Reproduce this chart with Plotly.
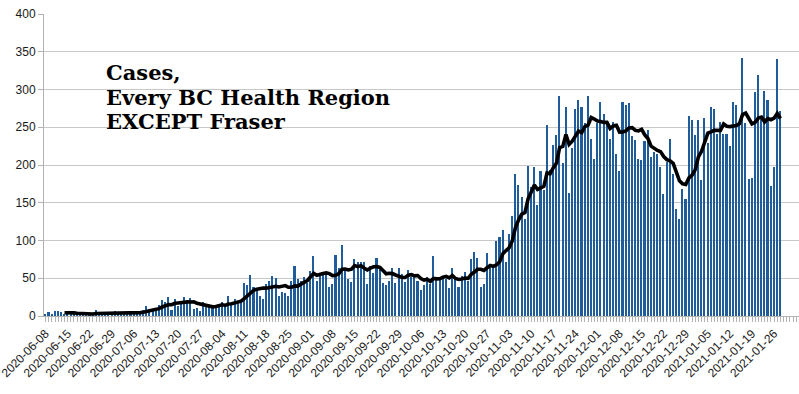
import pandas as pd
import plotly.graph_objects as go

cases = [
    # 2020-06-08 ...
    3, 5, 3, 6, 6, 5, 2,
    4, 3, 3, 2, 3, 2, 3,
    3, 2, 8, 2, 3, 2, 4,
    3, 6, 3, 5, 3, 4, 3,
    5, 6, 5, 8, 13, 9, 9,
    10, 14, 21, 18, 25, 8, 22,
    13, 20, 25, 18, 24, 9, 10,
    7, 18, 14, 14, 13, 12, 14,
    # 2020-08-04 ...
    19, 13, 27, 16, 23, 19, 20,
    44, 41, 54, 38, 33, 27, 23,
    42, 46, 53, 51, 27, 32, 31,
    26, 46, 66, 49, 46, 52, 44,
    60, 79, 47, 53, 58, 58, 38,
    42, 81, 63, 94, 60, 49, 45,
    75, 72, 72, 72, 42, 66, 57,
    77, 64, 44, 41, 47, 63, 44,
    63, 55, 45, 61, 52, 52, 47,
    35, 41, 52, 42, 79, 48, 48,
    50, 49, 37, 64, 52, 39, 53,
    58, 46, 75, 85, 77, 39, 42,
    83, 67, 67, 100, 105, 114, 71,
    109, 132, 188, 173, 157, 129, 199,
    171, 197, 147, 192, 167, 253, 193,
    226, 240, 291, 202, 277, 163, 222,
    274, 286, 277, 256, 291, 234, 208,
    255, 283, 268, 256, 235, 257, 214,
    192, 284, 279, 282, 238, 233, 208,
    207, 232, 246, 211, 217, 214, 197,
    161, 204, 234, 188, 142, 128, 168,
    155, 265, 260, 240, 259, 180, 262,
    229, 277, 274, 241, 257, 241, 241,
    225, 283, 279, 256, 342, 256, 182,
    183, 297, 319, 265, 298, 286, 172,
    197, 341, 272,
]

# report dates (no report for 2020-08-03)
all_days = pd.date_range("2020-06-08", periods=len(cases) + 1, freq="D")
dates = [d.strftime("%Y-%m-%d") for d in all_days if d.strftime("%Y-%m-%d") != "2020-08-03"]
dates = dates[:len(cases)]

title_lines = ["Cases,", "Every BC Health Region", "EXCEPT Fraser"]

idx = list(range(len(cases)))
avg7 = pd.Series(cases).rolling(7).mean()
tick_idx = idx[::7]
tick_text = [dates[i] for i in tick_idx]

fig = go.Figure()
fig.add_trace(go.Bar(
    x=idx, y=cases,
    marker=dict(color="#1f5c99", line=dict(width=0)),
    width=0.5,
    showlegend=False,
))
fig.add_trace(go.Scatter(
    x=idx, y=avg7, mode="lines",
    line=dict(color="#000000", width=3.6),
    showlegend=False,
))

for t, yy in zip(title_lines, [0.8077, 0.7248, 0.6452]):
    fig.add_annotation(
        xref="paper", yref="paper", x=0.080, y=yy,
        xanchor="left", yanchor="middle", align="left", showarrow=False,
        text="<b>" + t + "</b>",
        font=dict(family="DejaVu Serif", size=21, color="#000000"),
    )

fig.update_layout(
    width=799, height=394,
    margin=dict(l=44, r=0, t=14, b=78, autoexpand=False),
    plot_bgcolor="#ffffff", paper_bgcolor="#ffffff",
    bargap=0,
    font=dict(family="Liberation Sans", size=12, color="#1a1a1a"),
)
fig.update_xaxes(
    range=[-0.5, 238.9],
    tickmode="array", tickvals=tick_idx, ticktext=tick_text, tickangle=-45,
    ticklabeloverflow="allow",
    ticks="outside", ticklen=5, tickcolor="#b3b3b3",
    minor=dict(tickmode="linear", tick0=0, dtick=1, ticks="outside",
               ticklen=5, tickcolor="#b3b3b3", showgrid=False),
    showline=True, linecolor="#b3b3b3", linewidth=1,
    showgrid=False, zeroline=False, automargin=False,
    tickfont=dict(family="Liberation Sans", size=12, color="#1a1a1a"),
)
fig.update_yaxes(
    range=[0, 400], dtick=50,
    ticks="outside", ticklen=5, tickcolor="#b3b3b3",
    showline=True, linecolor="#b3b3b3", linewidth=1,
    showgrid=True, gridcolor="#c8c8c8", gridwidth=1,
    zeroline=False, automargin=False,
    tickfont=dict(family="Liberation Sans", size=12, color="#1a1a1a"),
)

fig.write_html(
    "out.html",
    config={"displayModeBar": False},
    post_script="document.body.style.margin='0';document.body.style.overflow='hidden';",
)
